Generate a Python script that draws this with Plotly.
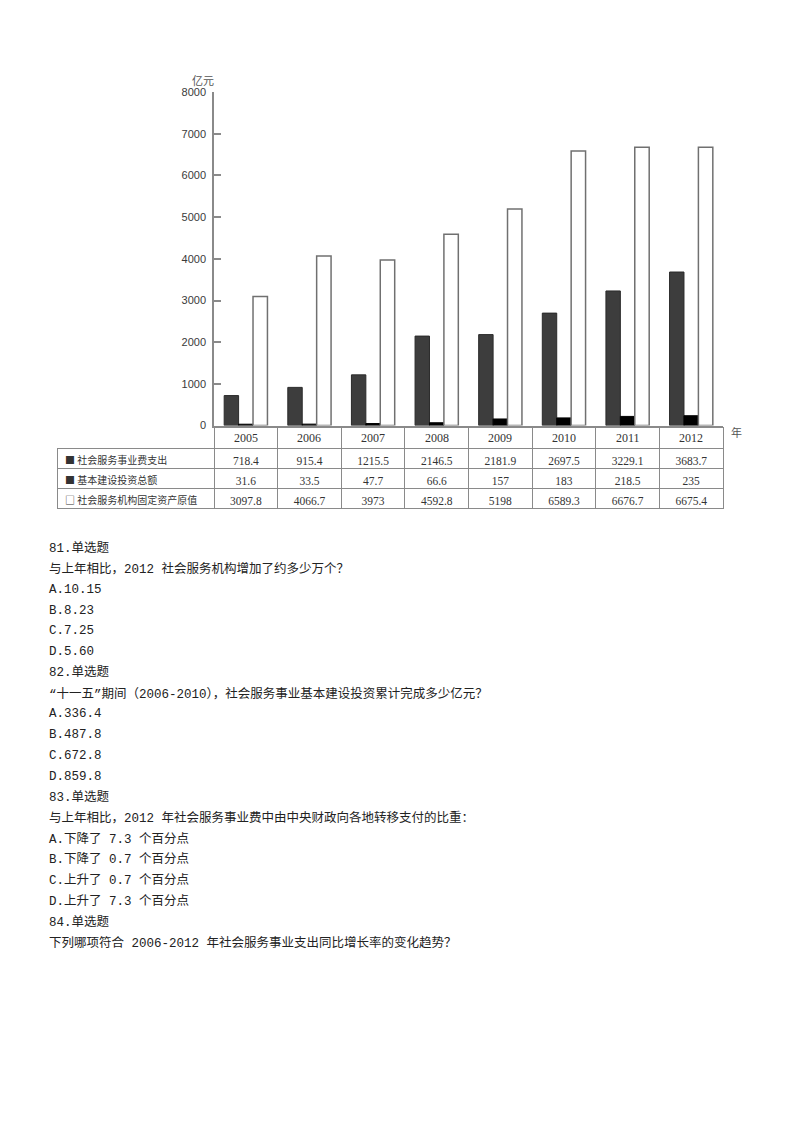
import plotly.graph_objects as go

# data
years = ['2005', '2006', '2007', '2008', '2009', '2010', '2011', '2012']
service_spend = [718.4, 915.4, 1215.5, 2146.5, 2181.9, 2697.5, 3229.1, 3683.7]
capital_invest = [31.6, 33.5, 47.7, 66.6, 157, 183, 218.5, 235]
fixed_assets = [3097.8, 4066.7, 3973, 4592.8, 5198, 6589.3, 6676.7, 6675.4]
table_values = [['718.4', '915.4', '1215.5', '2146.5', '2181.9', '2697.5', '3229.1', '3683.7'],
				['31.6', '33.5', '47.7', '66.6', '157', '183', '218.5', '235'],
				['3097.8', '4066.7', '3973', '4592.8', '5198', '6589.3', '6676.7', '6675.4']]
series_names = ['社会服务事业费支出', '基本建设投资总额', '社会服务机构固定资产原值']
y_ticks = [0, 1000, 2000, 3000, 4000, 5000, 6000, 7000, 8000]

question_lines = [
	'81.单选题',
	'与上年相比，2012 社会服务机构增加了约多少万个？',
	'A.10.15',
	'B.8.23',
	'C.7.25',
	'D.5.60',
	'82.单选题',
	'“十一五”期间（2006-2010），社会服务事业基本建设投资累计完成多少亿元？',
	'A.336.4',
	'B.487.8',
	'C.672.8',
	'D.859.8',
	'83.单选题',
	'与上年相比，2012 年社会服务事业费中由中央财政向各地转移支付的比重：',
	'A.下降了 7.3 个百分点',
	'B.下降了 0.7 个百分点',
	'C.上升了 0.7 个百分点',
	'D.上升了 7.3 个百分点',
	'84.单选题',
	'下列哪项符合 2006-2012 年社会服务事业支出同比增长率的变化趋势？',
]

# the page body keeps an 8px margin, so the figure is a bit smaller than the window
OFF = 8
W, H = 800 - 2 * OFF, 1132 - 2 * OFF
CJK = 'Noto Sans CJK SC'
GRID = '#8a8a8a'


def px_x(p):
	return (p - OFF) / W


def px_y(p):
	return 1 - (p - OFF) / H


fig = go.Figure()

fig.add_trace(go.Bar(x=years, y=service_spend, name=series_names[0],
					 marker=dict(color='#3d3d3d', line=dict(color='#2a2a2a', width=1))))
fig.add_trace(go.Bar(x=years, y=capital_invest, name=series_names[1],
					 marker=dict(color='#000000', line=dict(color='#000000', width=1))))
fig.add_trace(go.Bar(x=years, y=fixed_assets, name=series_names[2],
					 marker=dict(color='#ffffff', line=dict(color='#707070', width=1.5))))

# data table under the axis (the year row is drawn on the x axis itself)
markers = ['■', '■', '□']
labels = [m + ' ' + n for m, n in zip(markers, series_names)]
cols = [labels] + [[table_values[r][c] for r in range(3)] for c in range(len(years))]
families = [CJK] + ['Liberation Serif'] * len(years)
sizes = [10] + [11.5] * len(years)
aligns = ['left'] + ['center'] * len(years)

fig.add_trace(go.Table(
	domain=dict(x=[px_x(57), px_x(723)], y=[px_y(510), px_y(447)]),
	columnwidth=[157] + [63.6] * len(years),
	header=dict(values=[c[0] for c in cols],
				height=20,
				align=aligns,
				fill_color='white',
				line=dict(color=GRID, width=1),
				font=dict(family=families, size=sizes, color='#333')),
	cells=dict(values=[c[1:] for c in cols],
			   height=20,
			   align=aligns,
			   fill_color='white',
			   line=dict(color=GRID, width=1),
			   font=dict(family=families, size=sizes, color='#333')),
))

annotations = [
	dict(text='亿元', x=px_x(190), y=px_y(65), xref='paper', yref='paper',
		 showarrow=False, font=dict(family=CJK, size=11, color='#555')),
	dict(text='年', x=px_x(729), y=px_y(431), xref='paper', yref='paper', xanchor='left',
		 showarrow=False, font=dict(family=CJK, size=11, color='#555')),
]
# year row: numeric-looking category names are placed by index
for i, yr in enumerate(years):
	annotations.append(dict(text=yr, x=i, y=px_y(437), xref='x', yref='paper',
							showarrow=False, yanchor='middle',
							font=dict(family='Liberation Serif', size=12, color='#333')))
for i, line in enumerate(question_lines):
	annotations.append(dict(text=line, x=px_x(47), y=px_y(548 + 21 * i), xref='paper', yref='paper',
							xanchor='left', yanchor='middle', showarrow=False, align='left',
							font=dict(family='Liberation Mono, ' + CJK, size=12.5, color='#222')))

fig.update_layout(
	width=W, height=H,
	margin=dict(l=0, r=0, t=0, b=0),
	paper_bgcolor='white', plot_bgcolor='white',
	showlegend=False,
	barmode='group', bargap=0.32, bargroupgap=0,
	xaxis=dict(domain=[px_x(214), px_x(723)], type='category', range=[-0.5, 7.5],
			   showline=True, linecolor=GRID, linewidth=1.5,
			   ticks='outside', tickson='boundaries', ticklen=23, tickcolor=GRID, tickwidth=1,
			   showticklabels=False,
			   showgrid=False, fixedrange=True),
	yaxis=dict(domain=[px_y(424), px_y(87)], range=[0, 8000],
			   tickvals=y_ticks, ticks='inside', ticklen=7, tickcolor=GRID, tickwidth=1.5,
			   showline=True, linecolor=GRID, linewidth=1.5, ticklabelstandoff=4,
			   tickfont=dict(family='Liberation Sans', size=11, color='#3a3a3a'),
			   showgrid=False, zeroline=False, fixedrange=True),
	annotations=annotations,
)

fig.write_html("out.html")
